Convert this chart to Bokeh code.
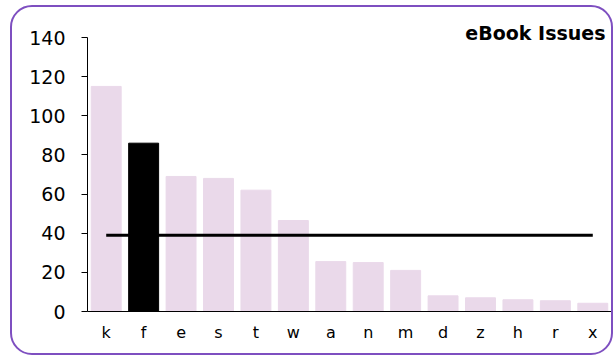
from bokeh.plotting import figure
from bokeh.models import ColumnDataSource, Title, FixedTicker, FactorRange, Range1d, InlineStyleSheet
from bokeh.embed import file_html
from bokeh.resources import INLINE

categories = ["k", "f", "e", "s", "t", "w", "a", "n", "m", "d", "z", "h", "r", "x"]
counts = [115, 86, 69, 68, 62, 46.5, 25.5, 25, 21, 8, 7, 6, 5.5, 4.2]
highlight = "f"
average = 39
y_ticks = [0, 20, 40, 60, 80, 100, 120, 140]
title_text = "eBook Issues"

bar_color = "#ead9ea"
colors = ["#000000" if c == highlight else bar_color for c in categories]

W, H = 613, 356
p = figure(x_range=FactorRange(*categories, range_padding=0), y_range=Range1d(0, 140),
           width=W, height=H, output_backend="svg", toolbar_location=None,
           min_border_left=87, min_border_right=2, min_border_top=37, min_border_bottom=45)
p.outline_line_color = None
p.grid.grid_line_color = None
p.background_fill_color = None
p.border_fill_color = None

src = ColumnDataSource(dict(cat=categories, val=counts, color=colors))
p.vbar(x="cat", top="val", width=0.8, color="color", source=src)
p.line(x=categories, y=[average] * len(categories), line_color="black", line_width=3)

p.yaxis.ticker = FixedTicker(ticks=y_ticks)
p.yaxis.minor_tick_line_color = None
p.yaxis.major_tick_in = 0
p.yaxis.major_tick_out = 6
p.yaxis.major_label_standoff = 16
p.yaxis.major_label_text_font = "DejaVu Sans"
p.yaxis.major_label_text_font_size = "19px"
p.yaxis.major_label_text_color = "black"
p.yaxis.axis_line_color = "black"

p.xaxis.major_tick_line_color = None
p.xaxis.minor_tick_line_color = None
p.xaxis.major_label_standoff = 5
p.xaxis.major_label_text_font = "DejaVu Sans"
p.xaxis.major_label_text_font_size = "16px"
p.xaxis.major_label_text_color = "black"
p.xaxis.axis_line_color = "black"

p.add_layout(Title(text=title_text, align="right", offset=6, standoff=-12,
                   vertical_align="bottom", text_font="DejaVu Sans", text_font_style="bold",
                   text_font_size="19px", text_color="black"), "above")

p.stylesheets = [InlineStyleSheet(css="""
:host { position: relative; }
:host::after {
  content: ""; position: absolute; left: 10px; top: 5px; right: 0px; bottom: 1px;
  border: 2px solid #7e4fc0; border-radius: 22px; pointer-events: none;
}
""")]

open("out.html", "w").write(file_html(p, INLINE))
